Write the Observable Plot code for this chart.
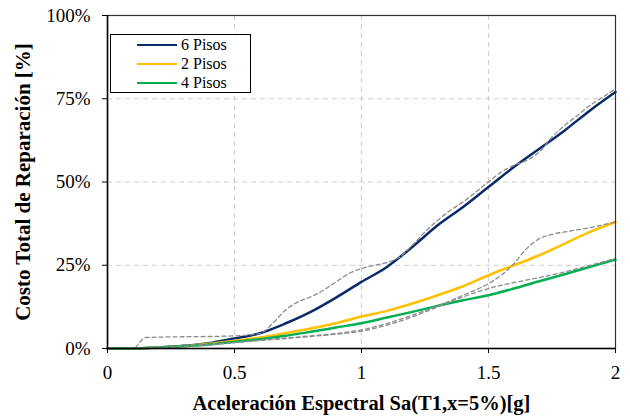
<!DOCTYPE html>
<html>
<head>
<meta charset="utf-8">
<script src="https://cdn.jsdelivr.net/npm/d3@7"></script>
<script src="https://cdn.jsdelivr.net/npm/@observablehq/plot@0.6"></script>
<style>
  html, body { margin: 0; padding: 0; background: #fff; }
  #wrap { position: relative; width: 630px; height: 417px; font-family: "Liberation Serif", "Times New Roman", serif; }
  #wrap svg, #wrap svg text { font-family: "Liberation Serif", "Times New Roman", serif !important; }
  g[aria-label="x-axis label"] text { font-weight: bold; font-size: 20.5px; fill: #000; }
  g[aria-label="y-axis label"] text { font-weight: bold; font-size: 21px; fill: #000; }
  g[aria-label="x-axis tick label"] text, g[aria-label="y-axis tick label"] text { font-size: 19px; fill: #000; }
  #legend { position: absolute; left: 110px; top: 34px; width: 141px; height: 59px; border: 1px solid #000; background: #fff; box-sizing: border-box; font-family: "Liberation Serif", "Times New Roman", serif; }
  #legend .row { position: absolute; left: 0; height: 18px; display: flex; align-items: center; font-size: 16px; color: #000; }
  #legend .sw { width: 40px; height: 0; margin-left: 26px; margin-right: 4px; }
</style>
</head>
<body>
<div id="wrap"></div>
<script>
// x values: Sa(T1) [g]
const xs = [0, 0.1, 0.2, 0.3, 0.4, 0.5, 0.6, 0.7, 0.8, 0.9, 1.0, 1.1, 1.2, 1.3, 1.4, 1.5, 1.6, 1.7, 1.8, 1.9, 2.0];
// fitted curves (% repair cost)
const pisos6 = [0, 0, 0.3, 0.8, 1.6, 3.0, 4.6, 7.5, 11, 15.3, 20, 24.5, 30.5, 37, 42.5, 48.5, 54.5, 60, 65.5, 71.5, 77];
const pisos2 = [0, 0, 0.3, 0.7, 1.4, 2.3, 3.3, 4.6, 6.0, 7.6, 9.6, 11.3, 13.5, 16, 18.7, 22, 25, 28, 31.5, 35, 38];
const pisos4 = [0, 0, 0.3, 0.7, 1.2, 2.0, 2.8, 3.8, 5.0, 6.3, 7.6, 9.3, 11, 12.8, 14.5, 16, 18, 20.2, 22.3, 24.5, 26.7];

// raw (dashed gray) curves
const raw6x = [0, 0.1, 0.15, 0.5, 0.6, 0.65, 0.7, 0.75, 0.8, 0.85, 0.9, 0.95, 1.0, 1.05, 1.1, 1.15, 1.2, 1.25, 1.3, 1.35, 1.4, 1.45, 1.5, 1.55, 1.6, 1.65, 1.7, 1.75, 1.8, 1.85, 1.9, 1.95, 2.0];
const raw6y = [0, 0, 3.3, 3.8, 4.5, 7.5, 11.5, 14, 15.5, 17.5, 20, 22.5, 24, 25, 25.8, 27.5, 31, 35, 38.5, 41.5, 44, 47, 50, 53, 55, 56.5, 59, 63.5, 67, 70, 73, 75.5, 78];
const raw2x = [0, 0.2, 0.4, 0.6, 0.8, 0.9, 1.0, 1.1, 1.2, 1.3, 1.4, 1.5, 1.55, 1.6, 1.65, 1.7, 1.75, 1.8, 1.9, 2.0];
const raw2y = [0, 0.3, 1.2, 2.5, 3.8, 4.5, 5.6, 7.5, 10, 12.8, 16, 19.5, 22, 25.5, 30, 33, 34.3, 35, 36.3, 38];
const raw4x = [0, 0.2, 0.4, 0.6, 0.8, 0.9, 1.0, 1.1, 1.2, 1.3, 1.4, 1.5, 1.6, 1.7, 1.8, 1.9, 2.0];
const raw4y = [0, 0.3, 1.2, 2.4, 3.6, 4.3, 5.2, 7, 9.5, 12.5, 15.5, 18, 19.8, 21.3, 23, 25, 27];

const seriesNames = ["6 Pisos", "2 Pisos", "4 Pisos"];
const seriesColors = ["#0a2a6b", "#ffc000", "#00b050"];
const xTicks = [0, 0.5, 1, 1.5, 2];
const yTicks = [0, 25, 50, 75, 100];

const fitted = [pisos6, pisos2, pisos4].flatMap((arr, i) => arr.map((v, j) => ({x: xs[j], y: v, s: seriesNames[i]})));
const raw = [[raw6x, raw6y, "r6"], [raw2x, raw2y, "r2"], [raw4x, raw4y, "r4"]]
  .flatMap(([xa, ya, k]) => xa.map((v, j) => ({x: v, y: ya[j], s: k})));

const chart = Plot.plot({
  width: 630,
  height: 417,
  marginLeft: 107,
  marginRight: 15,
  marginTop: 15,
  marginBottom: 69,
  style: {fontFamily: "'Liberation Serif', 'Times New Roman', serif", background: "#fff"},
  x: {domain: [0, 2]},
  y: {domain: [0, 100]},
  color: {domain: seriesNames, range: seriesColors},
  marks: [
    Plot.gridX(xTicks.slice(1, -1), {stroke: "#d0d0d0", strokeOpacity: 1, strokeDasharray: "5,4", strokeWidth: 1.2}),
    Plot.gridY(yTicks.slice(1, -1), {stroke: "#d0d0d0", strokeOpacity: 1, strokeDasharray: "5,4", strokeWidth: 1.2}),
    Plot.line(fitted, {x: "x", y: "y", z: "s", stroke: "s", strokeWidth: 2.5, curve: "monotone-x"}),
    Plot.line(raw, {x: "x", y: "y", z: "s", stroke: "#8c8c8c", strokeWidth: 1.3, strokeDasharray: "4,3", curve: "monotone-x"}),
    Plot.frame({stroke: "#333", strokeWidth: 1.2}),
    Plot.ruleX([0], {stroke: "#000", strokeWidth: 1.5}),
    Plot.ruleY([0], {stroke: "#000", strokeWidth: 1.5}),
    Plot.axisX({ticks: xTicks, tickSize: 5, tickPadding: 12, tickFormat: d => String(d), label: "Aceleración Espectral Sa(T1,x=5%)[g]", labelArrow: "none", labelAnchor: "center", labelOffset: 61}),
    Plot.axisY({ticks: yTicks, tickSize: 5, tickPadding: 12, tickFormat: d => d + "%", label: "Costo Total de Reparación [%]", labelArrow: "none", labelAnchor: "center", labelOffset: 92})
  ]
});

const wrap = document.getElementById("wrap");
wrap.appendChild(chart);

const legend = document.createElement("div");
legend.id = "legend";
seriesNames.forEach((name, i) => {
  const row = document.createElement("div");
  row.className = "row";
  row.style.top = (1 + i * 19) + "px";
  const sw = document.createElement("div");
  sw.className = "sw";
  sw.style.borderTop = "2.5px solid " + seriesColors[i];
  const t = document.createElement("span");
  t.textContent = name;
  row.appendChild(sw);
  row.appendChild(t);
  legend.appendChild(row);
});
wrap.appendChild(legend);
</script>
</body>
</html>
